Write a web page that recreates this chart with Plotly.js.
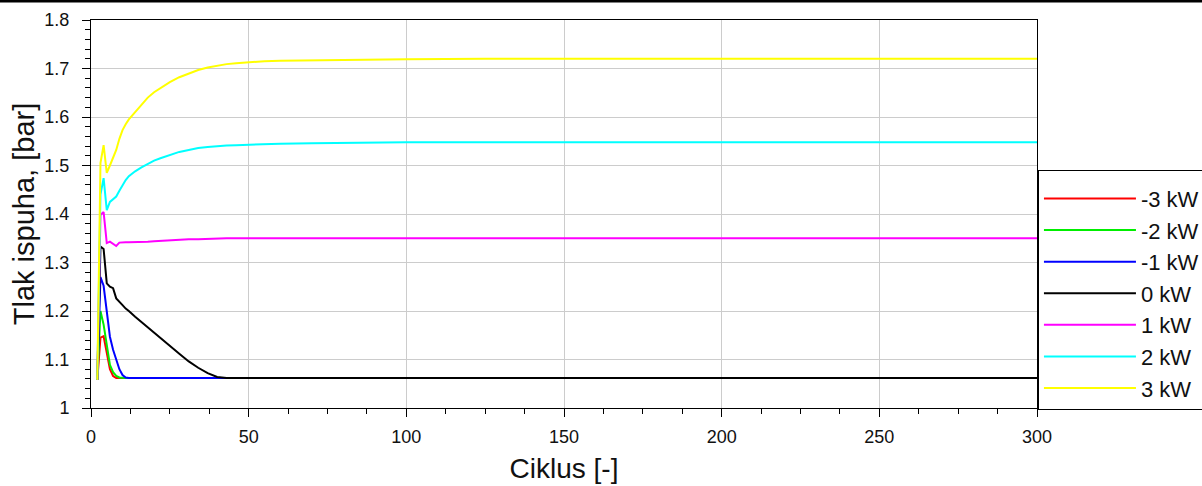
<!DOCTYPE html>
<html>
<head>
<meta charset="utf-8">
<script src="https://cdn.plot.ly/plotly-3.0.1.min.js"></script>
<style>html,body{margin:0;padding:0;background:#fff;}#chart{width:1202px;height:486px;}</style>
</head>
<body>
<div id="chart"></div>
<script>
const cycles = [2,3,4,5,6,7,8,9,10,11,12,14,16,18,20,22,25,28,31,34,37,40,43,46,50,55,60,70,80,90,100,125,150,175,200,225,250,275,300];

const names = ['-3 kW','-2 kW','-1 kW','0 kW','1 kW','2 kW','3 kW'];
const colors = ['#ff0000','#00ee00','#0000ff','#000000','#ff00ff','#00ffff','#ffff00'];

const pMinus3 = [1.058,1.145,1.148,1.110,1.080,1.066,1.062,1.062,1.062,1.062,1.062,1.062,1.062,1.062,1.062,1.062,1.062,1.062,1.062,1.062,1.062,1.062,1.062,1.062,1.062,1.062,1.062,1.062,1.062,1.062,1.062,1.062,1.062,1.062,1.062,1.062,1.062,1.062,1.062];
const pMinus2 = [1.058,1.200,1.172,1.126,1.089,1.074,1.066,1.063,1.062,1.062,1.062,1.062,1.062,1.062,1.062,1.062,1.062,1.062,1.062,1.062,1.062,1.062,1.062,1.062,1.062,1.062,1.062,1.062,1.062,1.062,1.062,1.062,1.062,1.062,1.062,1.062,1.062,1.062,1.062];
const pMinus1 = [1.058,1.270,1.252,1.200,1.147,1.120,1.098,1.080,1.068,1.063,1.062,1.062,1.062,1.062,1.062,1.062,1.062,1.062,1.062,1.062,1.062,1.062,1.062,1.062,1.062,1.062,1.062,1.062,1.062,1.062,1.062,1.062,1.062,1.062,1.062,1.062,1.062,1.062,1.062];
const p0 = [1.058,1.333,1.328,1.257,1.250,1.247,1.226,1.220,1.212,1.205,1.200,1.188,1.177,1.166,1.156,1.143,1.128,1.112,1.096,1.083,1.072,1.064,1.062,1.062,1.062,1.062,1.062,1.062,1.062,1.062,1.062,1.062,1.062,1.062,1.062,1.062,1.062,1.062,1.062];
const p1 = [1.058,1.398,1.404,1.340,1.343,1.338,1.334,1.341,1.342,1.342,1.342,1.342,1.343,1.343,1.344,1.345,1.346,1.347,1.348,1.348,1.349,1.349,1.350,1.350,1.350,1.350,1.350,1.350,1.350,1.350,1.350,1.350,1.350,1.350,1.350,1.350,1.350,1.350,1.350];
const p2 = [1.058,1.440,1.474,1.408,1.425,1.430,1.436,1.448,1.460,1.470,1.478,1.488,1.496,1.503,1.510,1.515,1.522,1.528,1.532,1.536,1.538,1.540,1.541,1.542,1.543,1.544,1.545,1.546,1.547,1.547,1.548,1.548,1.548,1.548,1.548,1.548,1.548,1.548,1.548];
const p3 = [1.058,1.505,1.542,1.485,1.500,1.515,1.532,1.555,1.573,1.585,1.595,1.610,1.625,1.640,1.651,1.660,1.672,1.682,1.690,1.697,1.702,1.706,1.709,1.711,1.713,1.715,1.716,1.717,1.718,1.719,1.719,1.720,1.720,1.720,1.720,1.720,1.720,1.720,1.720];

const series = [pMinus3,pMinus2,pMinus1,p0,p1,p2,p3];

const traces = series.map((ys,i)=>({
  x: cycles, y: ys, type:'scatter', mode:'lines', name: names[i],
  line:{color: colors[i], width:2}, legendgroup: 'g'+i
}));

const font = 'Liberation Sans, Arial, sans-serif';
const layout = {
  width:1202, height:486,
  margin:{l:91, r:165, t:20, b:78, autoexpand:false},
  paper_bgcolor:'#fff', plot_bgcolor:'#fff',
  font:{family:font, color:'#111'},
  showlegend:true,
  legend:{x:1.001, xanchor:'left', y:0.613, yanchor:'top', bordercolor:'#000', borderwidth:1,
    bgcolor:'#fff', font:{family:font, size:22, color:'#111'}, itemwidth:92, tracegroupgap:0,
    title:{text:' ', font:{size:5}}},
  xaxis:{range:[0,300], dtick:50, tick0:0, showline:true, linecolor:'#000', linewidth:1, mirror:true,
    ticks:'outside', ticklen:8, tickcolor:'#000', showgrid:true, gridcolor:'#cccccc', zeroline:false,
    tickfont:{size:18, family:font, color:'#111'}, ticklabelstandoff:4, automargin:false,
    minor:{dtick:12.5, ticklen:5, tickcolor:'#000', ticks:'outside', showgrid:false},
    title:{text:'Ciklus [-]', font:{size:28, family:font, color:'#111'}, standoff:12}},
  yaxis:{range:[1,1.8], dtick:0.1, tick0:1, showline:true, linecolor:'#000', linewidth:1, mirror:true,
    ticks:'outside', ticklen:8, tickcolor:'#000', showgrid:true, gridcolor:'#cccccc', zeroline:false,
    tickfont:{size:18, family:font, color:'#111'}, ticklabelstandoff:9, automargin:false,
    minor:{dtick:0.02, ticklen:5, tickcolor:'#000', ticks:'outside', showgrid:false},
    title:{text:'Tlak ispuha, [bar]', font:{size:29, family:font, color:'#111'}, standoff:1}},
  shapes:[{type:'line', xref:'paper', yref:'paper', x0:-0.1, x1:1.2, y0:1.049, y1:1.049,
    line:{color:'#000', width:3}}]
};

Plotly.newPlot('chart', traces, layout, {displayModeBar:false, staticPlot:true});
</script>
</body>
</html>
